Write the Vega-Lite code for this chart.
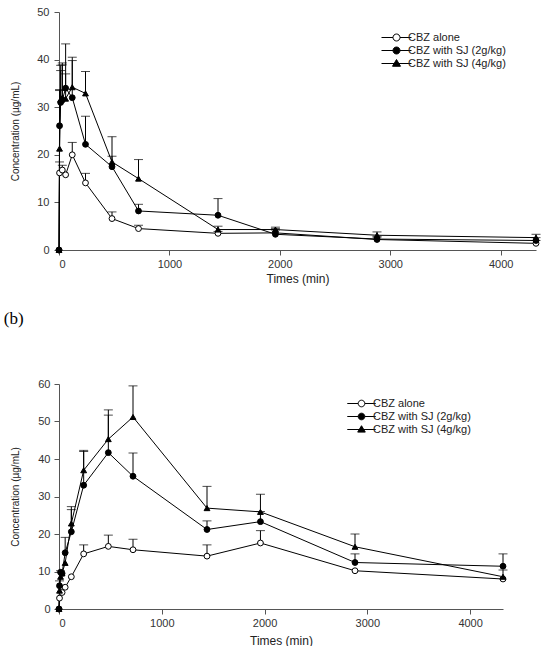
{
  "$schema": "https://vega.github.io/schema/vega-lite/v6.json",
  "padding": {"left": 3, "top": 6, "right": 0, "bottom": 0},
  "background": "white",
  "datasets": {
    "a": [
      {"series": "CBZ alone", "time": 0, "conc": 0, "upper": null},
      {"series": "CBZ alone", "time": 5, "conc": 16.2, "upper": 18.5},
      {"series": "CBZ alone", "time": 30, "conc": 16.8, "upper": 17.8},
      {"series": "CBZ alone", "time": 60, "conc": 15.8, "upper": null},
      {"series": "CBZ alone", "time": 120, "conc": 20.0, "upper": 22.6},
      {"series": "CBZ alone", "time": 240, "conc": 14.1, "upper": 16.1},
      {"series": "CBZ alone", "time": 480, "conc": 6.6, "upper": 8.0},
      {"series": "CBZ alone", "time": 720, "conc": 4.5, "upper": 5.2},
      {"series": "CBZ alone", "time": 1440, "conc": 3.5, "upper": 3.9},
      {"series": "CBZ alone", "time": 1960, "conc": 3.6, "upper": 4.2},
      {"series": "CBZ alone", "time": 2880, "conc": 2.2, "upper": 2.7},
      {"series": "CBZ alone", "time": 4320, "conc": 1.4, "upper": 2.0},
      {"series": "CBZ with SJ (2g/kg)", "time": 0, "conc": 0, "upper": null},
      {"series": "CBZ with SJ (2g/kg)", "time": 5, "conc": 26.1, "upper": 33.7},
      {"series": "CBZ with SJ (2g/kg)", "time": 15, "conc": 31.0, "upper": 37.7},
      {"series": "CBZ with SJ (2g/kg)", "time": 30, "conc": 31.5, "upper": 38.9},
      {"series": "CBZ with SJ (2g/kg)", "time": 60, "conc": 34.0, "upper": 37.0},
      {"series": "CBZ with SJ (2g/kg)", "time": 120, "conc": 32.0, "upper": 39.8},
      {"series": "CBZ with SJ (2g/kg)", "time": 240, "conc": 22.2, "upper": 28.1},
      {"series": "CBZ with SJ (2g/kg)", "time": 480, "conc": 17.5, "upper": 19.7},
      {"series": "CBZ with SJ (2g/kg)", "time": 720, "conc": 8.2, "upper": 9.6},
      {"series": "CBZ with SJ (2g/kg)", "time": 1440, "conc": 7.3, "upper": 10.8},
      {"series": "CBZ with SJ (2g/kg)", "time": 1960, "conc": 3.3, "upper": 4.5},
      {"series": "CBZ with SJ (2g/kg)", "time": 2880, "conc": 2.3, "upper": 2.9},
      {"series": "CBZ with SJ (2g/kg)", "time": 4320, "conc": 2.0, "upper": 2.6},
      {"series": "CBZ with SJ (4g/kg)", "time": 0, "conc": 0, "upper": null},
      {"series": "CBZ with SJ (4g/kg)", "time": 5, "conc": 21.3, "upper": 33.5},
      {"series": "CBZ with SJ (4g/kg)", "time": 15, "conc": 31.6, "upper": 38.8},
      {"series": "CBZ with SJ (4g/kg)", "time": 30, "conc": 32.0, "upper": 39.3},
      {"series": "CBZ with SJ (4g/kg)", "time": 60, "conc": 31.8, "upper": 43.3},
      {"series": "CBZ with SJ (4g/kg)", "time": 120, "conc": 34.2, "upper": 40.5},
      {"series": "CBZ with SJ (4g/kg)", "time": 240, "conc": 32.9, "upper": 37.5},
      {"series": "CBZ with SJ (4g/kg)", "time": 480, "conc": 18.5, "upper": 23.8},
      {"series": "CBZ with SJ (4g/kg)", "time": 720, "conc": 15.0, "upper": 19.0},
      {"series": "CBZ with SJ (4g/kg)", "time": 1440, "conc": 4.3, "upper": 5.0},
      {"series": "CBZ with SJ (4g/kg)", "time": 1960, "conc": 4.3, "upper": 4.8},
      {"series": "CBZ with SJ (4g/kg)", "time": 2880, "conc": 3.1, "upper": 3.8},
      {"series": "CBZ with SJ (4g/kg)", "time": 4320, "conc": 2.6, "upper": 3.3}
    ],
    "b": [
      {"series": "CBZ alone", "time": 0, "conc": 0, "upper": null},
      {"series": "CBZ alone", "time": 5, "conc": 2.9, "upper": null},
      {"series": "CBZ alone", "time": 30, "conc": 4.4, "upper": null},
      {"series": "CBZ alone", "time": 60, "conc": 5.8, "upper": null},
      {"series": "CBZ alone", "time": 120, "conc": 8.6, "upper": null},
      {"series": "CBZ alone", "time": 240, "conc": 14.7, "upper": 17.1},
      {"series": "CBZ alone", "time": 480, "conc": 16.7, "upper": 19.7},
      {"series": "CBZ alone", "time": 720, "conc": 15.8, "upper": 18.6},
      {"series": "CBZ alone", "time": 1440, "conc": 14.1, "upper": 17.1},
      {"series": "CBZ alone", "time": 1960, "conc": 17.6, "upper": 20.9},
      {"series": "CBZ alone", "time": 2880, "conc": 10.2, "upper": null},
      {"series": "CBZ alone", "time": 4320, "conc": 8.0, "upper": null},
      {"series": "CBZ with SJ (2g/kg)", "time": 0, "conc": 0, "upper": null},
      {"series": "CBZ with SJ (2g/kg)", "time": 5, "conc": 6.2, "upper": 7.5},
      {"series": "CBZ with SJ (2g/kg)", "time": 15, "conc": 9.8, "upper": null},
      {"series": "CBZ with SJ (2g/kg)", "time": 30, "conc": 9.5, "upper": null},
      {"series": "CBZ with SJ (2g/kg)", "time": 60, "conc": 15.0, "upper": 19.1},
      {"series": "CBZ with SJ (2g/kg)", "time": 120, "conc": 20.6, "upper": 26.5},
      {"series": "CBZ with SJ (2g/kg)", "time": 240, "conc": 33.0, "upper": 42.0},
      {"series": "CBZ with SJ (2g/kg)", "time": 480, "conc": 41.7, "upper": 51.7},
      {"series": "CBZ with SJ (2g/kg)", "time": 720, "conc": 35.4, "upper": 41.6},
      {"series": "CBZ with SJ (2g/kg)", "time": 1440, "conc": 21.2, "upper": 23.5},
      {"series": "CBZ with SJ (2g/kg)", "time": 1960, "conc": 23.3, "upper": 26.0},
      {"series": "CBZ with SJ (2g/kg)", "time": 2880, "conc": 12.4, "upper": 14.7},
      {"series": "CBZ with SJ (2g/kg)", "time": 4320, "conc": 11.4, "upper": 14.7},
      {"series": "CBZ with SJ (4g/kg)", "time": 0, "conc": 0, "upper": null},
      {"series": "CBZ with SJ (4g/kg)", "time": 5, "conc": 4.9, "upper": null},
      {"series": "CBZ with SJ (4g/kg)", "time": 15, "conc": 8.6, "upper": 10.2},
      {"series": "CBZ with SJ (4g/kg)", "time": 30, "conc": 9.5, "upper": null},
      {"series": "CBZ with SJ (4g/kg)", "time": 60, "conc": 12.3, "upper": null},
      {"series": "CBZ with SJ (4g/kg)", "time": 120, "conc": 22.8, "upper": 27.3},
      {"series": "CBZ with SJ (4g/kg)", "time": 240, "conc": 37.0, "upper": 42.3},
      {"series": "CBZ with SJ (4g/kg)", "time": 480, "conc": 45.3, "upper": 53.1},
      {"series": "CBZ with SJ (4g/kg)", "time": 720, "conc": 51.2, "upper": 59.5},
      {"series": "CBZ with SJ (4g/kg)", "time": 1440, "conc": 26.9, "upper": 32.7},
      {"series": "CBZ with SJ (4g/kg)", "time": 1960, "conc": 25.9, "upper": 30.6},
      {"series": "CBZ with SJ (4g/kg)", "time": 2880, "conc": 16.6, "upper": 20.0},
      {"series": "CBZ with SJ (4g/kg)", "time": 4320, "conc": 8.6, "upper": 10.4}
    ]
  },
  "align": "none",
  "spacing": 26,
  "resolve": {"scale": {"color": "independent"}, "legend": {"color": "independent"}},
  "vconcat": [
    {
      "width": 477,
      "height": 238,
      "data": {"name": "a"},
      "encoding": {
        "x": {"field": "time", "type": "quantitative", "scale": {"domain": [0, 4320], "nice": false},
          "axis": {"title": "Times (min)", "values": [0, 1000, 2000, 3000, 4000], "format": "d", "grid": false, "tickSize": 5, "labelPadding": 3, "titlePadding": 4}},
        "y": {"field": "conc", "type": "quantitative", "scale": {"domain": [0, 50], "nice": false},
          "axis": {"title": "Concentration (µg/mL)", "values": [0, 10, 20, 30, 40, 50], "labelOverlap": false, "grid": false, "tickSize": 5, "labelPadding": 5, "titlePadding": 16}}
      },
      "layer": [
        {
          "mark": {"type": "line", "strokeWidth": 1},
          "encoding": {
            "color": {"field": "series", "type": "nominal",
              "scale": {"domain": ["CBZ alone", "CBZ with SJ (2g/kg)", "CBZ with SJ (4g/kg)"], "range": ["black", "black", "black"]},
              "legend": {"title": null, "orient": "none", "legendX": 332, "legendY": 20, "symbolSize": 100, "labelOffset": 6, "rowPadding": 1,
                "encode": {"symbols": {"update": {
                  "shape": {"signal": "datum.value === 'CBZ with SJ (4g/kg)' ? 'M-3,0H3M0,-0.8L0.8,0.55L-0.8,0.55Z' : 'M-3,0H-0.7M0.7,0H3M-0.7,0A0.7,0.7,0,1,1,0.7,0A0.7,0.7,0,1,1,-0.7,0Z'"},
                  "fill": {"signal": "datum.value === 'CBZ alone' ? 'white' : 'black'"},
                  "stroke": {"value": "black"},
                  "strokeWidth": {"value": 1},
                  "opacity": {"value": 1}
                }}}}}
          }
        },
        {
          "transform": [{"filter": "isValid(datum.upper)"}],
          "mark": {"type": "rule", "color": "black", "strokeWidth": 1},
          "encoding": {"y2": {"field": "upper"}}
        },
        {
          "transform": [{"filter": "isValid(datum.upper)"}],
          "mark": {"type": "tick", "orient": "horizontal", "color": "black", "size": 9, "thickness": 1},
          "encoding": {"y": {"field": "upper", "type": "quantitative", "axis": {"title": "Concentration (µg/mL)", "values": [0, 10, 20, 30, 40, 50], "labelOverlap": false, "grid": false, "tickSize": 5, "labelPadding": 5, "titlePadding": 16}}}
        },
        {
          "transform": [{"filter": "datum.series === 'CBZ alone'"}],
          "mark": {"type": "point", "shape": "circle", "filled": true, "fill": "white", "size": 34, "stroke": "black", "strokeWidth": 1, "opacity": 1}
        },
        {
          "transform": [{"filter": "datum.series === 'CBZ with SJ (2g/kg)'"}],
          "mark": {"type": "point", "shape": "circle", "filled": true, "fill": "black", "size": 34, "stroke": "black", "strokeWidth": 1, "opacity": 1}
        },
        {
          "transform": [{"filter": "datum.series === 'CBZ with SJ (4g/kg)'"}],
          "mark": {"type": "point", "shape": "triangle-up", "filled": true, "fill": "black", "size": 34, "stroke": "black", "strokeWidth": 1, "opacity": 1}
        }
      ]
    },
    {
      "width": 444,
      "height": 225,
      "data": {"name": "b"},
      "title": {"text": "(b)", "anchor": "start", "frame": "bounds", "font": "Liberation Serif", "fontSize": 17, "fontWeight": "normal", "color": "black", "offset": 50, "dx": -7},
      "encoding": {
        "x": {"field": "time", "type": "quantitative", "scale": {"domain": [0, 4320], "nice": false},
          "axis": {"title": "Times (min)", "values": [0, 1000, 2000, 3000, 4000], "format": "d", "grid": false, "tickSize": 5, "labelPadding": 3, "titlePadding": 7}},
        "y": {"field": "conc", "type": "quantitative", "scale": {"domain": [0, 60], "nice": false},
          "axis": {"title": "Concentration (µg/mL)", "values": [0, 10, 20, 30, 40, 50, 60], "labelOverlap": false, "grid": false, "tickSize": 5, "labelPadding": 4, "titlePadding": 17}}
      },
      "layer": [
        {
          "mark": {"type": "line", "strokeWidth": 1},
          "encoding": {
            "color": {"field": "series", "type": "nominal",
              "scale": {"domain": ["CBZ alone", "CBZ with SJ (2g/kg)", "CBZ with SJ (4g/kg)"], "range": ["black", "black", "black"]},
              "legend": {"title": null, "orient": "none", "legendX": 297, "legendY": 14, "symbolSize": 90, "labelOffset": 6, "rowPadding": 1,
                "encode": {"symbols": {"update": {
                  "shape": {"signal": "datum.value === 'CBZ with SJ (4g/kg)' ? 'M-3,0H3M0,-0.8L0.8,0.55L-0.8,0.55Z' : 'M-3,0H-0.7M0.7,0H3M-0.7,0A0.7,0.7,0,1,1,0.7,0A0.7,0.7,0,1,1,-0.7,0Z'"},
                  "fill": {"signal": "datum.value === 'CBZ alone' ? 'white' : 'black'"},
                  "stroke": {"value": "black"},
                  "strokeWidth": {"value": 1},
                  "opacity": {"value": 1}
                }}}}}
          }
        },
        {
          "transform": [{"filter": "isValid(datum.upper)"}],
          "mark": {"type": "rule", "color": "black", "strokeWidth": 1},
          "encoding": {"y2": {"field": "upper"}}
        },
        {
          "transform": [{"filter": "isValid(datum.upper)"}],
          "mark": {"type": "tick", "orient": "horizontal", "color": "black", "size": 9, "thickness": 1},
          "encoding": {"y": {"field": "upper", "type": "quantitative", "axis": {"title": "Concentration (µg/mL)", "values": [0, 10, 20, 30, 40, 50, 60], "labelOverlap": false, "grid": false, "tickSize": 5, "labelPadding": 4, "titlePadding": 17}}}
        },
        {
          "transform": [{"filter": "datum.series === 'CBZ alone'"}],
          "mark": {"type": "point", "shape": "circle", "filled": true, "fill": "white", "size": 34, "stroke": "black", "strokeWidth": 1, "opacity": 1}
        },
        {
          "transform": [{"filter": "datum.series === 'CBZ with SJ (2g/kg)'"}],
          "mark": {"type": "point", "shape": "circle", "filled": true, "fill": "black", "size": 34, "stroke": "black", "strokeWidth": 1, "opacity": 1}
        },
        {
          "transform": [{"filter": "datum.series === 'CBZ with SJ (4g/kg)'"}],
          "mark": {"type": "point", "shape": "triangle-up", "filled": true, "fill": "black", "size": 34, "stroke": "black", "strokeWidth": 1, "opacity": 1}
        }
      ]
    }
  ],
  "config": {
    "view": {"stroke": null},
    "axis": {"labelFont": "Liberation Sans", "labelFontSize": 11, "labelColor": "#333", "labelOverlap": false, "titleFont": "Liberation Sans", "titleFontSize": 12, "titleFontWeight": "normal", "titleColor": "#222", "domainColor": "#555", "tickColor": "#555"},
    "axisY": {"titleFont": "Liberation Sans", "titleFontSize": 10, "titleColor": "#222"},
    "legend": {"labelFont": "Liberation Sans", "labelFontSize": 11, "labelColor": "#222"}
  }
}
